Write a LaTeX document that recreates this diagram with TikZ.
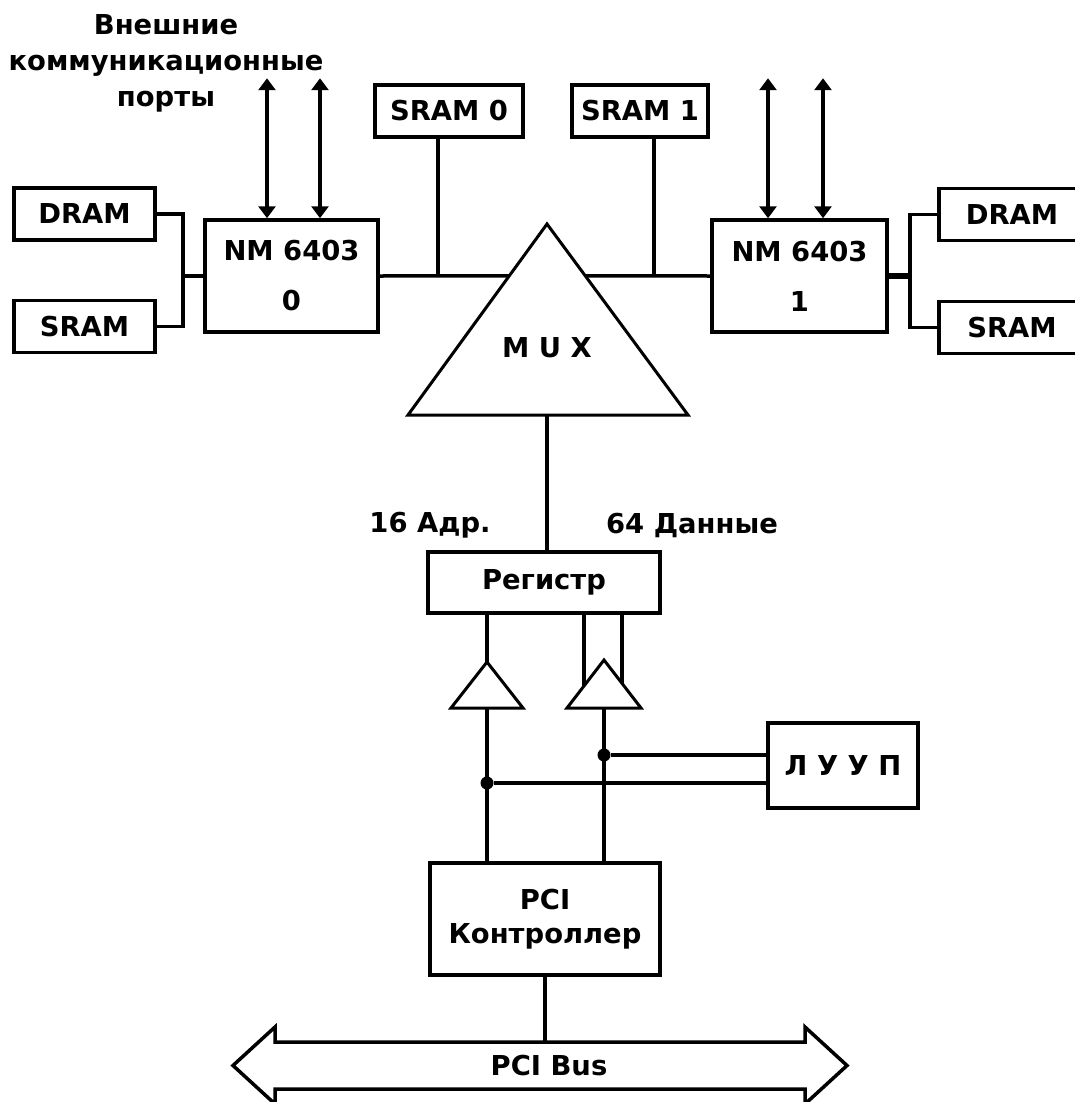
\documentclass[tikz,border=0pt]{standalone}
\usepackage{fontspec}
\setmainfont{DejaVu Sans}
\usetikzlibrary{arrows.meta,positioning,calc}

\begin{document}
\begin{tikzpicture}[
  x=1pt, y=-1pt,
  font=\bfseries\fontsize{27.4}{34}\selectfont,
  >={Triangle[length=12pt,width=17pt]},
  block/.style={
    draw,
    line width=3.5pt,
    minimum height=52pt,
    inner sep=0pt,
    align=center
  },
  cpu/.style={
    block,
    minimum height=112pt,
    font=\bfseries\fontsize{27.4}{50}\selectfont
  },
  wire/.style={line width=3.5pt},
  port/.style={<->, line width=3.5pt},
  amp/.style={draw, line width=3pt},
  dot/.style={circle, fill, inner sep=0pt, minimum size=13pt},
  title/.style={align=center, font=\bfseries\fontsize{27.4}{36}\selectfont}
]
\useasboundingbox (0,0) rectangle (1075,1102);

% Processor 0 with its memory
\node[title] (ports) at (166,63) {Внешние\\коммуникационные\\порты};
\node[block, minimum width=141pt] (dramL) at (84.5,214) {DRAM};
\node[block, minimum width=141pt] (sramL) at (84.5,326.5) {SRAM};
\node[cpu, minimum width=173pt] (nm0) at (291.5,276) {NM 6403\\0};

% Processor 1 with its memory
\node[cpu, minimum width=175pt] (nm1) at (799.5,276) {NM 6403\\1};
\node[block, minimum width=146pt] (dramR) at (1012,214.5) {DRAM};
\node[block, minimum width=146pt] (sramR) at (1012,327.5) {SRAM};

% Shared memory
\node[block, minimum width=148pt] (sram0) at (449,111) {SRAM 0};
\node[block, minimum width=136pt] (sram1) at (640,111) {SRAM 1};

% Multiplexer
\coordinate (muxtop) at (547,224);
\coordinate (muxbl) at (408,415);
\coordinate (muxbr) at (688,415);
\coordinate (muxbot) at (547,415);
\draw[amp] (muxtop) -- (muxbr) -- (muxbl) -- cycle;
\node (mux) at (547,348) {M U X};
\coordinate (muxinL) at ($(muxtop)!0.272!(muxbl)$);
\coordinate (muxinR) at ($(muxtop)!0.272!(muxbr)$);

% Register and bus drivers
\node[block, minimum width=232pt, minimum height=61pt] (reg) at (544,582.5) {Регистр};
\node (adr) at (430,525) {16 Адр.};
\node (dat) at (692,525) {64 Данные};

\coordinate (bufA) at (487,662);
\coordinate (bufD) at (604,660);
\draw[amp] (bufA) -- ++(36,46) -- ++(-72,0) -- cycle;
\draw[amp] (bufD) -- ++(37,48) -- ++(-74,0) -- cycle;
\coordinate (bufAout) at (487,708);
\coordinate (bufDout) at (604,708);
\coordinate (dinL) at (584,686);
\coordinate (dinR) at (622,683);

% Control logic and PCI side
\node[block, minimum width=150pt, minimum height=85pt] (luup) at (843,765.5) {Л У У П};
\node[block, minimum width=230pt, minimum height=112pt] (ctrl) at (545,919) {PCI\\Контроллер};
\node[dot] (jD) at (604,755) {};
\node[dot] (jA) at (487,783) {};

% PCI bus
\coordinate (bustop) at (545,1042);
\draw[wire] (275,1042) -- (805,1042) -- (805,1027) -- (847,1065.5) -- (805,1104)
  -- (805,1089) -- (275,1089) -- (275,1104) -- (233,1065.5) -- (275,1027) -- cycle;
\node (bus) at (549,1066) {PCI Bus};

% External ports
\draw[port] ([xshift=-24.5pt]nm0.north) -- ++(0,-140);
\draw[port] ([xshift=28.5pt]nm0.north) -- ++(0,-140);
\draw[port] ([xshift=-31.5pt]nm1.north) -- ++(0,-140);
\draw[port] ([xshift=23.5pt]nm1.north) -- ++(0,-140);

% Local memory links
\coordinate (jL) at (183,276);
\coordinate (jR) at (910,276);
\draw[wire] (dramL.east) -- (dramL.east -| jL) -- (sramL.east -| jL) -- (sramL.east);
\draw[wire] (jL) -- (nm0.west);
\draw[wire] (dramR.west) -- (dramR.west -| jR) -- (sramR.west -| jR) -- (sramR.west);
\draw[line width=6pt] (nm1.east) -- (jR);

% Processor bus through the multiplexer
\coordinate (tap0) at (438,276);
\coordinate (tap1) at (654,276);
\draw[wire] (nm0.east) -- (muxinL);
\draw[wire] (muxinR) -- (nm1.west);
\draw[wire] (sram0.south -| tap0) -- (tap0);
\draw[wire] (sram1.south -| tap1) -- (tap1);
\draw[wire] (muxbot) -- (muxbot |- reg.north);

% Register to drivers to controller
\draw[wire] (reg.south -| bufA) -- (bufA);
\draw[wire] (reg.south -| dinL) -- (dinL);
\draw[wire] (reg.south -| dinR) -- (dinR);
\draw[wire] (bufAout) -- (bufAout |- ctrl.north);
\draw[wire] (bufDout) -- (bufDout |- ctrl.north);
\draw[wire] (jD) -- (jD -| luup.west);
\draw[wire] (jA) -- (jA -| luup.west);
\draw[wire] (ctrl.south) -- (bustop);

\end{tikzpicture}
\end{document}
